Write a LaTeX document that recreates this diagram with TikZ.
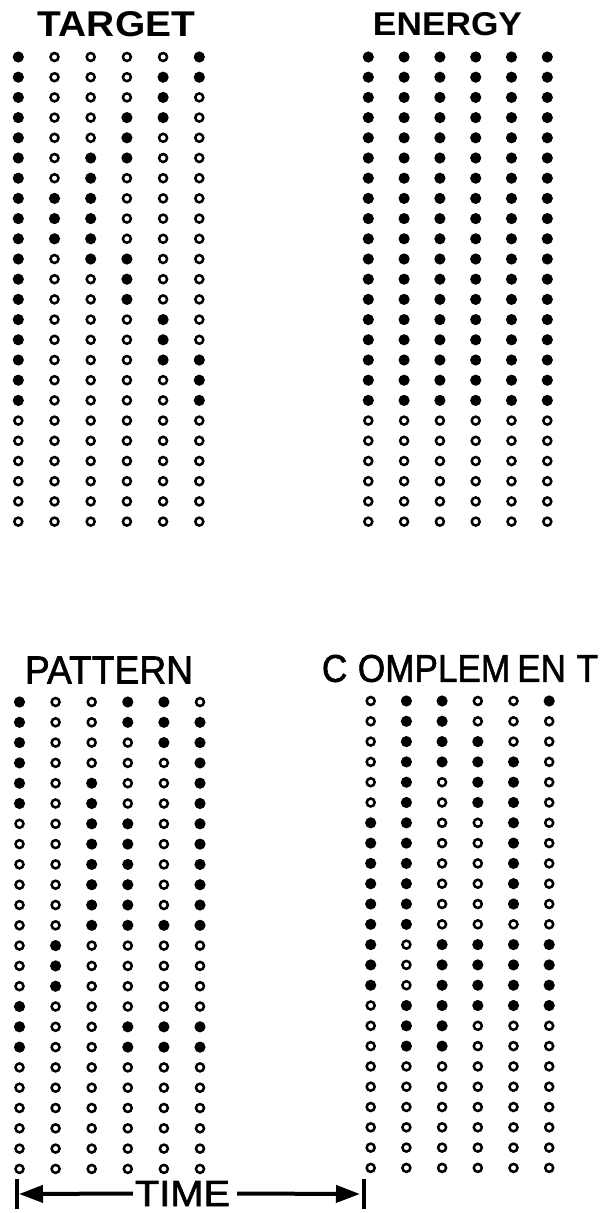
\documentclass[tikz,border=0pt]{standalone}
\usepackage{fontspec}
\setmainfont{Liberation Sans}
\newfontfamily\medfont{Liberation Sans}[FakeBold=1.6]
\usetikzlibrary{arrows.meta}

% --- grid rows, 1 = filled dot ---
\newcommand{\targetrows}{{1,0,0,0,0,1},{1,0,0,0,1,1},{1,0,0,0,1,0},{1,0,0,1,1,0},
  {1,0,0,1,0,0},{1,0,1,1,0,0},{1,0,1,0,0,0},{1,1,1,0,0,0},{1,1,1,0,0,0},
  {1,1,1,0,0,0},{1,0,1,1,0,0},{1,0,0,1,0,0},{1,0,0,1,0,0},{1,0,0,0,1,0},
  {1,0,0,0,1,0},{1,0,0,0,1,1},{1,0,0,0,0,1},{1,0,0,0,0,1},
  {0,0,0,0,0,0},{0,0,0,0,0,0},{0,0,0,0,0,0},{0,0,0,0,0,0},{0,0,0,0,0,0},{0,0,0,0,0,0}}
\newcommand{\energyrows}{{1,1,1,1,1,1},{1,1,1,1,1,1},{1,1,1,1,1,1},{1,1,1,1,1,1},
  {1,1,1,1,1,1},{1,1,1,1,1,1},{1,1,1,1,1,1},{1,1,1,1,1,1},{1,1,1,1,1,1},
  {1,1,1,1,1,1},{1,1,1,1,1,1},{1,1,1,1,1,1},{1,1,1,1,1,1},{1,1,1,1,1,1},
  {1,1,1,1,1,1},{1,1,1,1,1,1},{1,1,1,1,1,1},{1,1,1,1,1,1},
  {0,0,0,0,0,0},{0,0,0,0,0,0},{0,0,0,0,0,0},{0,0,0,0,0,0},{0,0,0,0,0,0},{0,0,0,0,0,0}}
\newcommand{\patternrows}{{1,0,0,1,1,0},{1,0,0,1,1,1},{1,0,0,0,1,1},{1,0,0,0,0,1},
  {1,0,1,0,0,1},{1,0,1,0,0,1},{0,0,1,1,0,1},{0,0,1,1,0,1},{0,0,1,1,0,1},
  {0,0,1,1,0,1},{0,0,1,1,0,1},{0,0,1,1,1,1},{0,1,0,0,0,0},{0,1,0,0,0,0},
  {0,1,0,0,0,0},{1,0,0,0,0,0},{1,0,0,1,1,1},{1,0,0,1,1,1},
  {0,0,0,0,0,0},{0,0,0,0,0,0},{0,0,0,0,0,0},{0,0,0,0,0,0},{0,0,0,0,0,0},{0,0,0,0,0,0}}
\newcommand{\complrows}{{0,1,1,0,0,1},{0,1,1,0,0,0},{0,1,1,1,0,0},{0,1,1,1,1,0},
  {0,1,0,1,1,0},{0,1,0,1,1,0},{1,1,0,0,1,0},{1,1,0,0,1,0},{1,1,0,0,1,0},
  {1,1,0,0,1,0},{1,1,0,0,1,0},{1,1,0,0,0,0},{1,0,1,1,1,1},{1,0,1,1,1,1},
  {1,0,1,1,1,1},{0,1,1,1,1,1},{0,1,1,0,0,0},{0,1,1,0,0,0},
  {0,0,0,0,0,0},{0,0,0,0,0,0},{0,0,0,0,0,0},{0,0,0,0,0,0},{0,0,0,0,0,0},{0,0,0,0,0,0}}

% x0, y0, dx, dy, rows
\newcommand{\dotgrid}[5]{%
  \foreach \rw [count=\r from 0] in #5 {
    \foreach \v [count=\c from 0] in \rw {
      \ifnum\v=1
        \fill[fulldot] ({#1+\c*#3}, {#2+\r*#4}) circle[radius=5.6pt];
      \else
        \draw[opendot] ({#1+\c*#3}, {#2+\r*#4}) circle[radius=4pt];
      \fi
    }
  }}

\begin{document}
\begin{tikzpicture}[x=1pt, y=-1pt,
    ttl/.style={inner sep=0pt, anchor=center},
    fulldot/.style={black},
    opendot/.style={draw=black, line width=2.5pt},
    timearr/.style={-{Triangle[length=24pt, width=17pt]}, line width=4pt},
    endbar/.style={line width=4pt}]

    \useasboundingbox (0,0) rectangle (607,1213);

    % --- Titles ---
    \node[ttl] (target) at (116.5, 24.5) {\resizebox{157pt}{25pt}{\bfseries TARGET}};
    \node[ttl] (energy) at (447.5, 24) {\resizebox{149pt}{23pt}{\bfseries ENERGY}};
    \node[ttl] (pattern) at (109, 670) {\resizebox{168pt}{27pt}{\medfont PATTERN}};
    \node[ttl] (complement) at (460, 668.5)
      {\resizebox{276pt}{27pt}{\medfont C\kern3pt OMPLEM\kern2pt EN\kern3pt T}};

    % --- Dot grids ---
    \dotgrid{18.3}{57}{36.2}{20.2}{\targetrows}
    \dotgrid{368.3}{57}{35.8}{20.2}{\energyrows}
    \dotgrid{19.5}{702}{36.1}{20.3}{\patternrows}
    \dotgrid{370.7}{701}{35.7}{20.3}{\complrows}

    % --- Time axis ---
    \node[ttl] (time) at (182.5, 1193.5) {\resizebox{95pt}{25pt}{\medfont TIME}};
    \coordinate (tstart) at (19, 1194);
    \coordinate (tend) at (360, 1194);
    \draw[endbar] (17, 1179) -- (17, 1209);
    \draw[endbar] (364, 1179) -- (364, 1209);
    \draw[timearr] ([xshift=-2pt]time.west) -- (tstart);
    \draw[timearr] ([xshift=7pt]time.east) -- (tend);
  \end{tikzpicture}
\end{document}
